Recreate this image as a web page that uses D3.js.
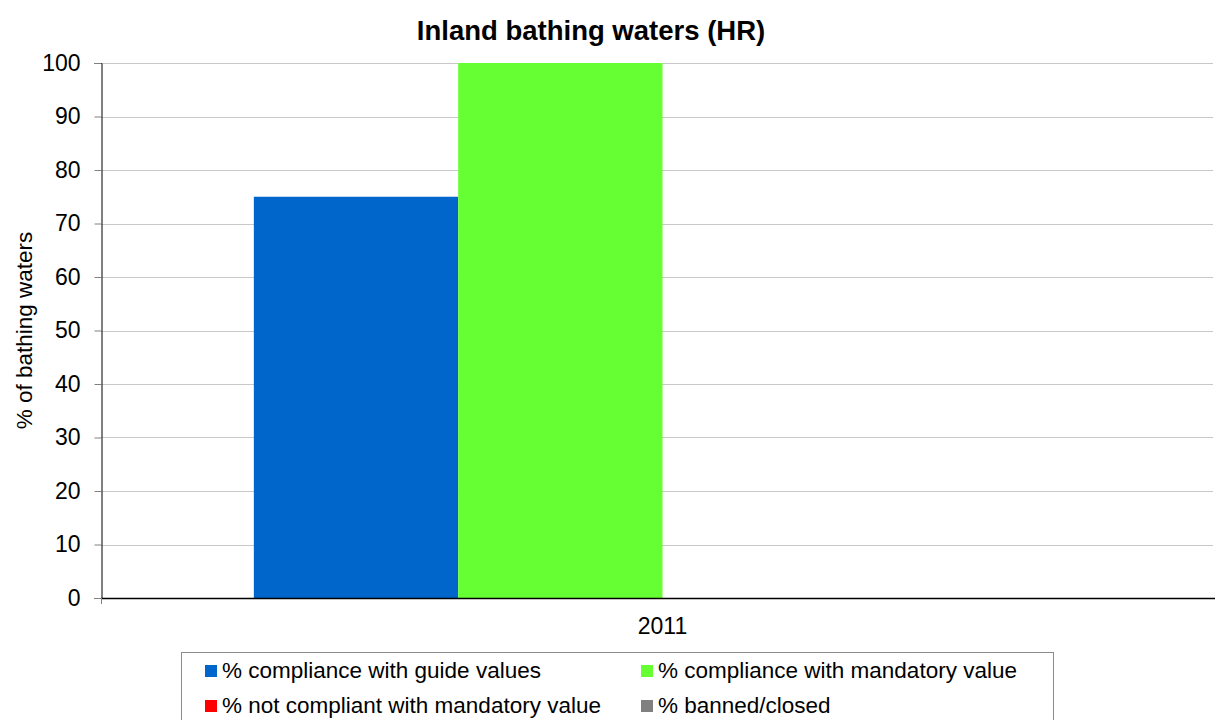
<!DOCTYPE html>
<html>
<head>
<meta charset="utf-8">
<script src="https://d3js.org/d3.v7.min.js"></script>
<style>
  body { margin: 0; background: #fff; }
  text { font-family: "Liberation Sans", Arial, sans-serif; fill: #000; }
</style>
</head>
<body>
<svg width="1215" height="720"></svg>
<script>
  var years = ["2011"];
  var seriesNames = ["% compliance with guide values", "% compliance with mandatory value",
                     "% not compliant with mandatory value", "% banned/closed"];
  var seriesColors = ["#0066CC", "#66FF33", "#FF0000", "#808080"];
  var guideValues = [75];
  var mandatoryValues = [100];
  var notCompliant = [0];
  var banned = [0];
  var yTicks = [0, 10, 20, 30, 40, 50, 60, 70, 80, 90, 100];

  var allSeries = [guideValues, mandatoryValues, notCompliant, banned];

  var svg = d3.select("svg");
  var plotLeft = 101, plotRight = 1213, plotTop = 63, plotBottom = 598;

  var y = d3.scaleLinear().domain([0, 100]).range([plotBottom, plotTop]);
  var x0 = d3.scaleBand().domain(years).range([plotLeft, 1224]).paddingInner(0).paddingOuter(0.187);
  var x1 = d3.scaleBand().domain(d3.range(seriesNames.length)).range([0, x0.bandwidth()]).padding(0);

  // title
  svg.append("text")
    .attr("x", 591).attr("y", 40)
    .attr("text-anchor", "middle")
    .style("font-size", "27.5px")
    .style("font-weight", "bold")
    .text("Inland bathing waters (HR)");

  // gridlines
  svg.append("g")
    .selectAll("line")
    .data(yTicks.filter(function(d) { return d > 0; }))
    .enter()
    .append("line")
    .attr("x1", plotLeft).attr("x2", plotRight)
    .attr("y1", function(d) { return Math.round(y(d)) + 0.5; })
    .attr("y2", function(d) { return Math.round(y(d)) + 0.5; })
    .style("stroke", "#c8c8c8")
    .style("stroke-width", 1);

  // bars
  years.forEach(function(yr, i) {
    svg.append("g")
      .selectAll("rect")
      .data(allSeries.map(function(s, k) { return { k: k, v: s[i] }; }))
      .enter()
      .append("rect")
      .attr("x", function(d) { return x0(yr) + x1(d.k); })
      .attr("width", x1.bandwidth())
      .attr("y", function(d) { return y(d.v); })
      .attr("height", function(d) { return plotBottom - y(d.v); })
      .style("fill", function(d) { return seriesColors[d.k]; });
  });

  // y axis
  var yAxis = svg.append("g")
    .attr("transform", "translate(" + (plotLeft + 0.5) + ",0)")
    .call(d3.axisLeft(y).tickValues(yTicks).tickSize(7).tickPadding(14));
  yAxis.select(".domain").style("stroke", "#000");
  yAxis.selectAll(".tick line").style("stroke", "#808080");
  yAxis.selectAll("text").style("font-size", "23px").attr("font-family", null);

  // x axis
  var xAxis = svg.append("g")
    .attr("transform", "translate(0," + plotBottom + ")")
    .call(d3.axisBottom(x0).tickSize(0).tickPadding(20));
  xAxis.select(".domain").remove();
  xAxis.selectAll("text").style("font-size", "23px").attr("font-family", null);
  svg.append("line")
    .attr("x1", plotLeft).attr("x2", 1215)
    .attr("y1", plotBottom + 0.5).attr("y2", plotBottom + 0.5)
    .style("stroke", "#000").style("stroke-width", 1.5);
  svg.append("line")
    .attr("x1", plotLeft + 0.5).attr("x2", plotLeft + 0.5)
    .attr("y1", plotBottom).attr("y2", plotBottom + 6)
    .style("stroke", "#808080");

  // y label
  svg.append("text")
    .attr("transform", "translate(32," + ((plotTop + plotBottom) / 2) + ")rotate(-90)")
    .attr("text-anchor", "middle")
    .style("font-size", "22.5px")
    .text("% of bathing waters");

  // legend
  svg.append("rect")
    .attr("x", 181.5).attr("y", 652.5)
    .attr("width", 872).attr("height", 80)
    .style("fill", "#fff")
    .style("stroke", "#8c8c8c");

  var legendPos = [[205, 665], [641, 665], [205, 700], [641, 700]];
  var lg = svg.append("g")
    .selectAll("g")
    .data(seriesNames)
    .enter()
    .append("g")
    .attr("transform", function(d, i) { return "translate(" + legendPos[i][0] + "," + legendPos[i][1] + ")"; });
  lg.append("rect")
    .attr("width", 12).attr("height", 12)
    .style("fill", function(d, i) { return seriesColors[i]; });
  lg.append("text")
    .attr("x", 17).attr("y", 13)
    .style("font-size", "22.5px")
    .text(function(d) { return d; });
</script>
</body>
</html>
